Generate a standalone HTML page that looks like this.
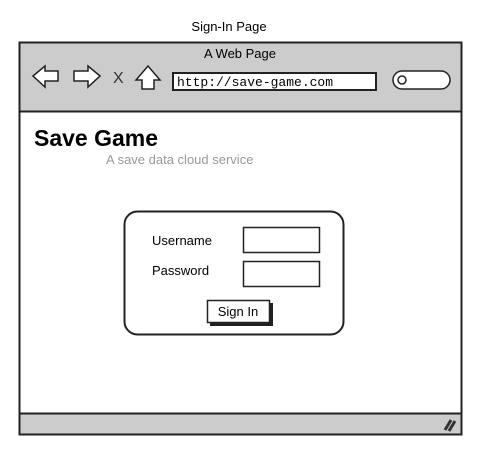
<!DOCTYPE html>
<html><head><style>body{margin:0;background:#fff}svg{display:block}text{font-family:"Comic Sans MS","Liberation Sans",sans-serif}</style></head><body>
<svg width="502" height="452" viewBox="0 0 502 452">
<text x="229" y="31" font-size="13" text-anchor="middle">Sign-In Page</text>
<rect x="19.5" y="42.5" width="442" height="392" fill="#fff" stroke="#222" stroke-width="2"/>
<rect x="19.5" y="42.5" width="442" height="69" fill="#ccc" stroke="#222" stroke-width="2"/>
<text x="240" y="58" font-size="13" text-anchor="middle">A Web Page</text>
<path d="M33 76 L45 66 L45 71 L58 71 L58 81 L45 81 L45 87 Z" fill="#fff" stroke="#222" stroke-width="1.5"/>
<path d="M100 76 L88 66 L88 71 L74 71 L74 81 L88 81 L88 87 Z" fill="#fff" stroke="#222" stroke-width="1.5"/>
<text x="113" y="83" font-size="16" fill="#333">X</text>
<path d="M136 80 L148 66 L160 80 L154 80 L154 89 L142 89 L142 80 Z" fill="#fff" stroke="#222" stroke-width="1.5"/>
<rect x="173" y="73" width="203" height="17" fill="#fff" stroke="#222" stroke-width="2"/>
<text x="177" y="86" font-size="13" style="font-family:'Liberation Mono',monospace">http://save-game.com</text>
<rect x="393" y="71" width="57" height="18" rx="9" fill="#fff" stroke="#222" stroke-width="1.5"/>
<circle cx="402" cy="80" r="4" fill="none" stroke="#222" stroke-width="1.5"/>
<text x="34" y="146" font-size="23" font-weight="bold">Save Game</text>
<text x="106" y="164" font-size="13" fill="#999">A save data cloud service</text>
<rect x="124.5" y="211.5" width="219" height="123" rx="13" fill="#fff" stroke="#222" stroke-width="2"/>
<text x="152" y="245" font-size="13">Username</text>
<text x="152" y="275" font-size="13">Password</text>
<rect x="243.5" y="227.5" width="76" height="25" fill="#fff" stroke="#222" stroke-width="1.5"/>
<rect x="243.5" y="261.5" width="76" height="25" fill="#fff" stroke="#222" stroke-width="1.5"/>
<rect x="210" y="303" width="63" height="23" fill="#222"/>
<rect x="207.5" y="300.5" width="62" height="22" fill="#fff" stroke="#222" stroke-width="1.5"/>
<text x="238" y="316" font-size="13" text-anchor="middle">Sign In</text>
<rect x="19.5" y="413.5" width="442" height="21" fill="#ccc" stroke="#222" stroke-width="2"/>
<path d="M445 430 L451 420 M449 431 L455 421" stroke="#333" stroke-width="3"/>
</svg>
</body></html>
